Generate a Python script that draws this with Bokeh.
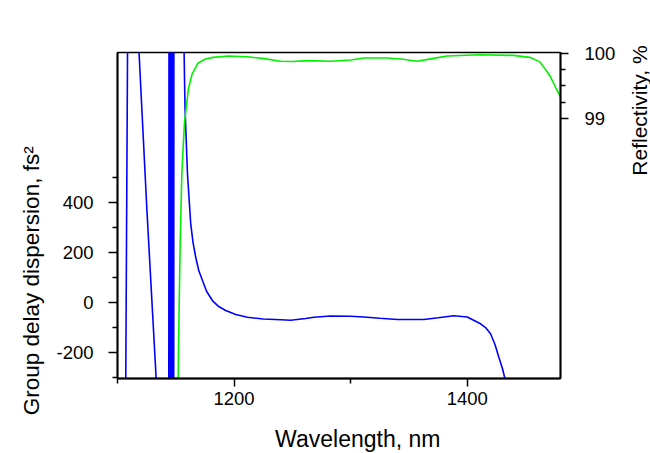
import math
import numpy as np
from bokeh.plotting import figure
from bokeh.models import Range1d, LinearAxis, FixedTicker, Label
from bokeh.embed import file_html
from bokeh.resources import INLINE

nan = float("nan")

# Group delay dispersion (fs^2) vs wavelength (nm); NaN separates branches
gdd_wavelength = [
    1107.05, 1108.65, nan,
    1118.06, 1125.1, 1133.6, nan,
    1143.9, 1144.2, 1144.5, 1144.8, 1145.1, 1145.4, 1145.7, 1146.0,
    1146.3, 1146.6, 1146.9, 1147.2, 1147.5, 1147.8, 1148.1, 1148.4, nan,
    1157.0, 1157.9, 1160.0, 1162.8, 1164.8, 1167.1, 1169.7, 1172.9, 1176.5,
    1181.4, 1186.8, 1192.8, 1201.4, 1211.4, 1225.0, 1240.0, 1248.6, 1261.4,
    1268.5, 1282.8, 1300.0, 1311.4, 1325.0, 1340.0, 1362.8, 1375.0, 1388.5,
    1400.0, 1411.4, 1415.7, 1420.0, 1423.8, 1427.1, 1430.2, 1433.5,
]
gdd_fs2 = [
    -340, 1040, nan,
    1040, 382, -340, nan,
    -1400, 1400, -1400, 1400, -1400, 1400, -1400, 1400,
    -1400, 1400, -1400, 1400, -1400, 1400, -1400, 1400, nan,
    1040, 782, 517, 317, 241, 182, 129, 89, 45,
    9, -15, -31, -47, -58, -65, -68, -70, -63,
    -58, -53, -54, -57, -62, -67, -67, -60, -52,
    -57, -84, -99, -124, -167, -218, -263, -325,
]

# Reflectivity (%) vs wavelength (nm)
refl_wavelength = [
    1152.0, 1152.4, 1152.9, 1153.8, 1155.2, 1157.4, 1160.8, 1164.0, 1169.0,
    1175.0, 1182.0, 1195.0, 1211.5, 1225.8, 1240.0, 1250.0, 1263.0, 1282.8,
    1300.0, 1311.4, 1331.4, 1345.0, 1357.0, 1370.0, 1382.6, 1411.0, 1439.5,
    1453.7, 1462.3, 1470.8, 1476.0, 1480.0,
]
refl_percent = [
    94.9, 95.5, 96.1, 97.1, 98.15, 98.92, 99.45, 99.68, 99.85,
    99.91, 99.94, 99.96, 99.95, 99.92, 99.88, 99.875, 99.89, 99.88,
    99.9, 99.93, 99.93, 99.91, 99.88, 99.92, 99.96, 99.98, 99.97,
    99.94, 99.87, 99.66, 99.47, 99.33,
]

x_ticks_major = [1200, 1400]
x_ticks_minor = [1100, 1300]
gdd_ticks_major = [-200, 0, 200, 400]
gdd_ticks_minor = [-300, -100, 100, 300, 500]
refl_ticks_major = [99, 100]
refl_ticks_minor = [99.25, 99.5, 99.75]

x_label = "Wavelength, nm"
gdd_label = "Group delay dispersion, fs\u00b2"
refl_label = "Reflectivity, %"

FONT = "Liberation Sans"

p = figure(width=650, height=453, output_backend="svg", toolbar_location=None,
           x_range=Range1d(1100, 1480), y_range=Range1d(-302.8, 1001.2),
           min_border_left=117, min_border_right=90,
           min_border_top=52, min_border_bottom=75)
p.extra_y_ranges = {"refl": Range1d(94.977, 100.015)}
p.xgrid.visible = False
p.ygrid.visible = False
p.outline_line_color = "black"
p.outline_line_width = 1.3
p.outline_line_alpha = 1.0
p.background_fill_color = "white"
p.border_fill_color = "white"

p.line(np.array(gdd_wavelength), np.array(gdd_fs2), line_color="#0000ff", line_width=1.6)
p.line(np.array(refl_wavelength), np.array(refl_percent), line_color="#00f000",
       line_width=1.6, y_range_name="refl")

xa = p.xaxis[0]
ya = p.yaxis[0]
ra = LinearAxis(y_range_name="refl")
p.add_layout(ra, "right")

xa.ticker = FixedTicker(ticks=x_ticks_major, minor_ticks=x_ticks_minor)
ya.ticker = FixedTicker(ticks=gdd_ticks_major, minor_ticks=gdd_ticks_minor)
ra.ticker = FixedTicker(ticks=refl_ticks_major, minor_ticks=refl_ticks_minor)
ya.major_label_overrides = {t: str(t) for t in gdd_ticks_major}
ra.major_label_overrides = {t: str(t) for t in refl_ticks_major}

for ax, tout, std in ((xa, 8, 5), (ya, 9, 15), (ra, 8, 16)):
    ax.axis_line_color = "black"
    ax.axis_line_width = 2
    ax.major_tick_line_color = "black"
    ax.minor_tick_line_color = "black"
    ax.major_tick_line_width = 1.5
    ax.minor_tick_line_width = 1.5
    ax.major_tick_in = 0
    ax.major_tick_out = tout
    ax.minor_tick_in = 0
    ax.minor_tick_out = 5
    ax.major_label_text_font = FONT
    ax.major_label_text_font_size = "18.5px"
    ax.major_label_text_color = "black"
    ax.major_label_standoff = std
    ax.axis_label = None

common = dict(text_font=FONT, text_color="black",
              text_align="center", text_baseline="alphabetic")
p.add_layout(Label(x=1306.1, y=-544, text=x_label, text_font_size="23px", **common), "below")
p.add_layout(Label(x=1026.3, y=88, text=gdd_label, angle=math.pi / 2,
                   text_font_size="22.5px", **common), "left")
p.add_layout(Label(x=1547.5, y=769, text=refl_label, angle=math.pi / 2,
                   text_font_size="21px", **common), "right")

open("out.html", "w").write(file_html(p, INLINE))
